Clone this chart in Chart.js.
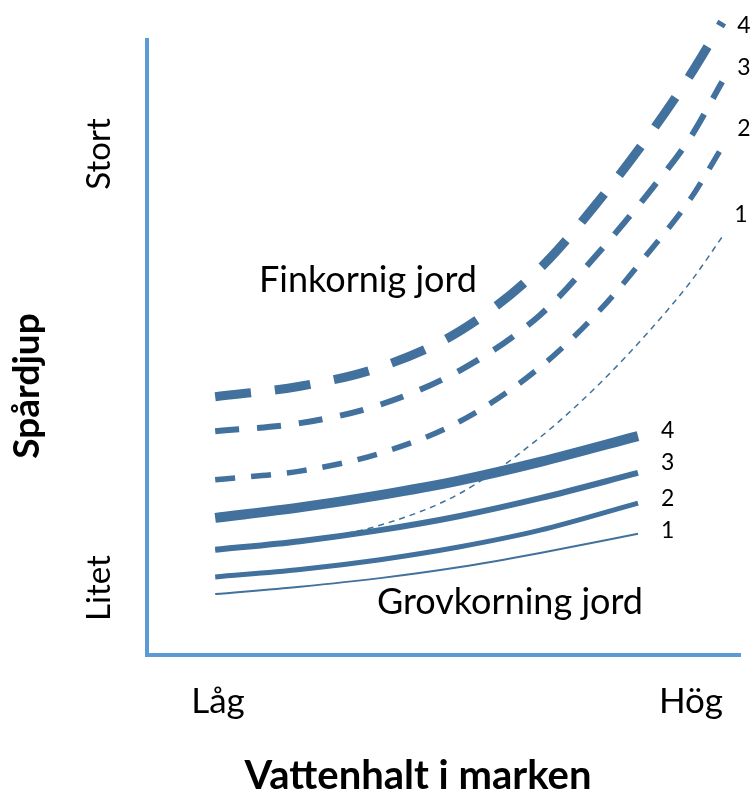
<!DOCTYPE html>
<html>
<head>
<meta charset="utf-8">
<script src="https://cdn.jsdelivr.net/npm/chart.js@4.4.1/dist/chart.umd.min.js"></script>
<style>
  body { margin: 0; background: #fff; }
  #wrap { width: 753px; height: 792px; }
</style>
</head>
<body>
<div id="wrap"><canvas id="chart"></canvas></div>
<script>
// x: vattenhalt (0-100), y: spårdjup (0-100)
const fineX = [11.5, 25.8, 39.3, 52.8, 66.3, 76.4, 84.8, 91.6, 97.0];
const fine4 = [42.0, 43.7, 46.8, 52.7, 62.9, 74.1, 84.7, 94.3, 102.9];
const fine3 = [36.4, 37.7, 40.7, 46.3, 55.3, 65.7, 75.4, 84.1, 93.2];
const fine2 = [28.5, 29.9, 32.8, 38.0, 46.8, 56.1, 65.7, 74.1, 82.6];
const fine1 = [17.1, 18.5, 21.1, 26.3, 35.4, 44.2, 52.8, 60.6, 68.0];

const coarseX = [11.5, 25.8, 39.3, 52.8, 66.3, 82.8];
const coarse4 = [22.3, 24.0, 26.0, 28.4, 31.4, 35.6];
const coarse3 = [17.1, 18.5, 20.3, 22.6, 25.5, 29.6];
const coarse2 = [12.7, 13.9, 15.5, 17.6, 20.3, 24.7];
const coarse1 = [9.9, 11.1, 12.5, 14.3, 16.6, 19.7];

const lineLabels = ["1", "2", "3", "4"];
const xLabels = ["Låg", "Hög"];
const yLabels = ["Litet", "Stort"];
const xTitle = "Vattenhalt i marken";
const yTitle = "Spårdjup";
const fineName = "Finkornig jord";
const coarseName = "Grovkorning jord";

const BLUE = "#41719c";
const AXIS = "#5b9bd5";
const FONT = "Lato, 'Open Sans', sans-serif";

const pts = (xs, ys) => xs.map((x, i) => ({ x, y: ys[i] }));

function ds(xs, ys, width, dash, label, labelDx, labelDy) {
  return {
    label,
    data: pts(xs, ys),
    borderColor: BLUE,
    borderWidth: width,
    borderDash: dash,
    pointRadius: 0,
    cubicInterpolationMode: "monotone",
    fill: false,
    clip: false,
    labelDx,
    labelDy,
  };
}

const textPlugin = {
  id: "texts",
  afterDraw(chart) {
    const { ctx } = chart;
    const sx = chart.scales.x;
    const sy = chart.scales.y;
    ctx.save();
    ctx.fillStyle = "#000";

    // numbers at the end of each line
    ctx.font = `23px ${FONT}`;
    ctx.textAlign = "left";
    ctx.textBaseline = "middle";
    chart.data.datasets.forEach((d) => {
      const last = d.data[d.data.length - 1];
      const px = sx.getPixelForValue(last.x);
      const py = sy.getPixelForValue(last.y);
      ctx.fillText(d.label, px + d.labelDx, py + d.labelDy);
    });

    ctx.textAlign = "center";
    ctx.textBaseline = "alphabetic";
    ctx.font = `36px ${FONT}`;
    ctx.fillText(fineName, 368, 292);
    ctx.fillText(coarseName, 510, 614);
    ctx.font = `35px ${FONT}`;
    ctx.fillText(xLabels[0], 218, 713);
    ctx.fillText(xLabels[1], 691, 713);

    ctx.font = `bold 40px ${FONT}`;
    ctx.fillText(xTitle, 418, 789);

    const vtext = (t, x, y, font) => {
      ctx.save();
      ctx.translate(x, y);
      ctx.rotate(-Math.PI / 2);
      ctx.font = font;
      ctx.fillText(t, 0, 0);
      ctx.restore();
    };
    vtext(yLabels[1], 110, 154, `33px ${FONT}`);
    vtext(yLabels[0], 110, 588, `33px ${FONT}`);
    vtext(yTitle, 39, 386, `bold 37px ${FONT}`);
    ctx.restore();
  },
};

new Chart(document.getElementById("chart"), {
  type: "line",
  data: {
    datasets: [
      ds(fineX, fine4, 9, [36, 24], lineLabels[3], 15, 3),
      ds(fineX, fine3, 6, [24, 18], lineLabels[2], 15, -14),
      ds(fineX, fine2, 5.5, [20, 16], lineLabels[1], 15, -18),
      ds(fineX, fine1, 1.5, [6, 5], lineLabels[0], 12, -22),
      ds(coarseX, coarse4, 10, [], lineLabels[3], 23, -5),
      ds(coarseX, coarse3, 6, [], lineLabels[2], 23, -10),
      ds(coarseX, coarse2, 5, [], lineLabels[1], 23, -5),
      ds(coarseX, coarse1, 2, [], lineLabels[0], 23, -3),
    ],
  },
  options: {
    responsive: true,
    maintainAspectRatio: false,
    animation: false,
    layout: { padding: { left: 147, right: 13, top: 40, bottom: 137 } },
    plugins: { legend: { display: false }, tooltip: { enabled: false } },
    scales: {
      x: {
        type: "linear",
        min: 0,
        max: 100,
        ticks: { display: false },
        grid: { drawOnChartArea: false, drawTicks: false },
        border: { color: AXIS, width: 4 },
      },
      y: {
        type: "linear",
        min: 0,
        max: 100,
        ticks: { display: false },
        grid: { drawOnChartArea: false, drawTicks: false },
        border: { color: AXIS, width: 4 },
      },
    },
  },
  plugins: [textPlugin],
});
</script>
</body>
</html>
